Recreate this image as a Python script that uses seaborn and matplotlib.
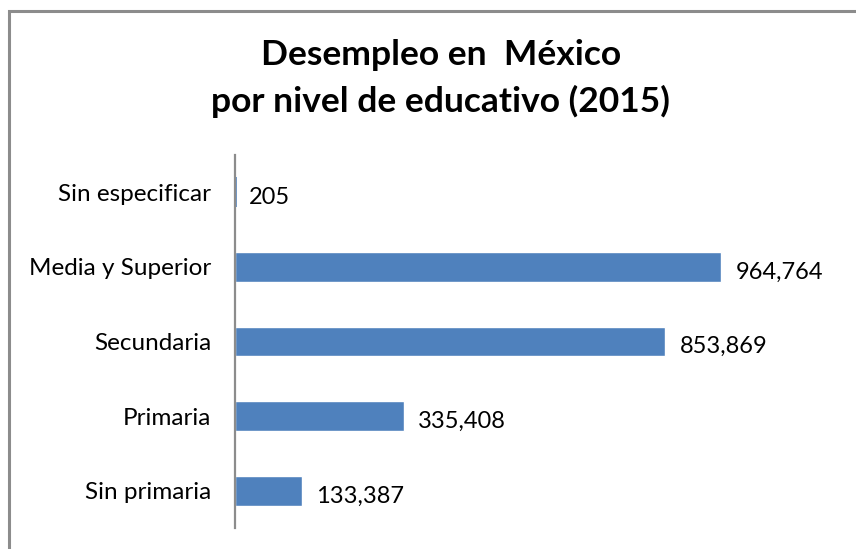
import matplotlib
matplotlib.use("Agg")
import matplotlib.pyplot as plt
import matplotlib.patches as mpatches
import seaborn as sns
import pandas as pd

# data
categorias = ["Sin especificar", "Media y Superior", "Secundaria", "Primaria", "Sin primaria"]
desempleados = [205, 964764, 853869, 335408, 133387]

df = pd.DataFrame({"nivel": categorias, "personas": desempleados})

sns.set_theme(style="white")
plt.rcParams["font.family"] = ["Lato", "DejaVu Sans"]
plt.rcParams["text.color"] = "#000000"

fig = plt.figure(figsize=(8.56, 5.49), dpi=100)
ax = fig.add_axes([235 / 856, 1 - 528 / 549, (840 - 235) / 856, (528 - 155) / 549])

sns.barplot(data=df, x="personas", y="nivel", orient="h", color="#4F81BD",
            saturation=1, width=0.4, ax=ax)

# the tiny 205 bar still shows as a sliver in the original
ax.patches[0].set_edgecolor("#4F81BD")
ax.patches[0].set_linewidth(2.6)

ax.set_xlim(0, 1200000)
ax.set_ylim(4.5, -0.5)
ax.set_xlabel("")
ax.set_ylabel("")
ax.set_xticks([])
ax.tick_params(axis="y", length=0, pad=17, labelsize=17.5, labelcolor="#000000")
for s in ["top", "right", "bottom"]:
    ax.spines[s].set_visible(False)
ax.spines["left"].set_color("#8c8c8c")
ax.spines["left"].set_linewidth(1.6)

for i, v in enumerate(desempleados):
    ax.text(v + 28000, i + 0.07, f"{v:,}", va="center", ha="left",
            fontsize=17, color="#000000")

fig.text(441 / 856, 1 - 55 / 549, "Desempleo en  México", ha="center", va="center",
         fontsize=25.5, fontweight="bold", color="#000000")
fig.text(440 / 856, 1 - 101 / 549, "por nivel de educativo (2015)", ha="center", va="center",
         fontsize=25.5, fontweight="bold", color="#000000")

# chart border like the spreadsheet frame
fig.patches.append(mpatches.Rectangle((9 / 856, -0.1), 1.1, 1.1 - 11 / 549,
                                      transform=fig.transFigure, fill=False,
                                      edgecolor="#8c8c8c", linewidth=2.2))

fig.savefig("out.png", dpi=100)
